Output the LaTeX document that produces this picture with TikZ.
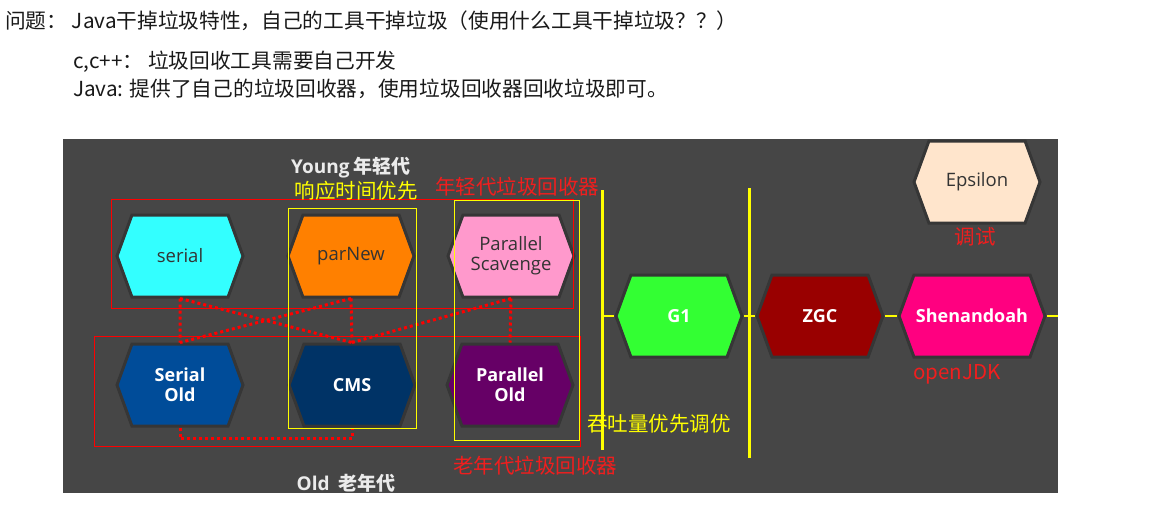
\documentclass[tikz,border=0pt]{standalone}
\usepackage{fontspec}
\setmainfont{Noto Sans CJK SC}
\newfontfamily\hexfont{Open Sans}
\usetikzlibrary{shapes.symbols}
\definecolor{panel}{HTML}{464646}
\definecolor{rim}{HTML}{363636}
\definecolor{gcred}{HTML}{F01E1E}
\definecolor{gcyellow}{HTML}{FFFF00}
\definecolor{darktext}{HTML}{333333}
\definecolor{cyanhex}{HTML}{33FFFF}
\definecolor{orangehex}{HTML}{FF8000}
\definecolor{pinkhex}{HTML}{FF99CC}
\definecolor{bluehex}{HTML}{004C99}
\definecolor{navyhex}{HTML}{003366}
\definecolor{purplehex}{HTML}{660066}
\definecolor{greenhex}{HTML}{33FF33}
\definecolor{maroonhex}{HTML}{990000}
\definecolor{magentahex}{HTML}{FF0080}
\definecolor{creamhex}{HTML}{FFE5CC}
\tikzset{
  gc/.style={signal, signal to=east and west, signal pointer angle=140,
    draw=rim, line width=3pt, minimum width=126pt, minimum height=82pt,
    inner sep=0pt, align=center},
  gclight/.style={gc, text=darktext, font=\hexfont\fontsize{18.5}{22}\selectfont},
  gcdark/.style={gc, text=white, font=\hexfont\bfseries\fontsize{18}{22}\selectfont},
  tag/.style={inner sep=0pt, font=\fontsize{20.5}{24}\selectfont},
  heading/.style={inner sep=0pt, text=white!92!black, font=\bfseries\fontsize{19}{22}\selectfont},
  line/.style={inner sep=0pt, anchor=west, text=black!90, font=\fontsize{20.7}{24}\selectfont},
  link/.style={red, line width=3pt, dash pattern=on 3pt off 3pt},
  frame/.style={line width=1.3pt},
  divider/.style={gcyellow, line width=3pt}
}

\begin{document}
\begin{tikzpicture}[x=1pt, y=-1pt]
  \useasboundingbox (0,0) rectangle (1160,512);
  % notes above the panel
  \node[line] (q) at (5,21) {问题： Java干掉垃圾特性，自己的工具干掉垃圾（使用什么工具干掉垃圾？？）};
  \node[line] (cpp) at (73,62) {c,c++： 垃圾回收工具需要自己开发};
  \node[line] (java) at (73,89) {Java: 提供了自己的垃圾回收器，使用垃圾回收器回收垃圾即可。};

  \fill[panel] (63,139) rectangle (1058,493);

  % collectors
  \node[gclight, fill=cyanhex] (serial) at (180,256) {serial};
  \node[gclight, fill=orangehex] (parnew) at (351,256) {parNew};
  \node[gclight, fill=pinkhex] (pscav) at (511,256) {Parallel\\[-2pt]Scavenge};
  \node[gcdark, fill=bluehex] (sold) at (180,385) {Serial\\[-2pt]Old};
  \node[gcdark, fill=navyhex] (cms) at (352,385) {CMS};
  \node[gcdark, fill=purplehex] (pold) at (510,385) {Parallel\\[-2pt]Old};
  \node[gcdark, fill=greenhex] (gone) at (679,316) {G1};
  \node[gcdark, fill=maroonhex] (zgc) at (820,316) {ZGC};
  \node[gcdark, fill=magentahex, minimum width=146pt] (shen) at (972,316) {Shenandoah};
  \node[gclight, fill=creamhex] (eps) at (977,182) {Epsilon};

  \draw[link] (serial.south) -- (sold.north)
    (serial.south) -- (cms.north)
    (parnew.south) -- (sold.north)
    (parnew.south) -- (cms.north)
    (pscav.south) -- (cms.north)
    (pscav.south) -- (pold.north);
  \draw[link] (sold.south) -- ++(0,11) -| (cms.south);

  \coordinate (split) at (602,316);
  \coordinate (edge) at (1058,316);
  \draw[gcyellow, line width=2.5pt] (split) -- (gone.west)
    (gone.east) -- (zgc.west)
    (zgc.east) -- (shen.west)
    (shen.east) -- (edge);
  \draw[divider] (602,190) -- (602,450);
  \draw[divider] (749,188) -- (749,458);

  \draw[frame, red] (111.5,199.5) rectangle (573.5,308.5);
  \draw[frame, red] (94.5,336.5) rectangle (580.5,446.5);
  \draw[frame, gcyellow] (288.5,208.5) rectangle (416.5,428.5);
  \draw[frame, gcyellow] (454.5,200.5) rectangle (579.5,440.5);

  % labels
  \node[heading] (young) at (351,168) {{\hexfont Young} 年轻代};
  \node[heading] (old) at (346,483) {{\hexfont Old}\ \ 老年代};
  \node[tag, text=gcyellow] (fast) at (356,191) {响应时间优先};
  \node[tag, text=gcred] (ygc) at (517,187) {年轻代垃圾回收器};
  \node[tag, text=gcred] (debug) at (975,237) {调试};
  \node[tag, text=gcred, anchor=west] (jdk) at (913,374) {openJDK};
  \node[tag, text=gcyellow, anchor=west] (tput) at (587,424) {吞吐量优先调优};
  \node[tag, text=gcred, anchor=west] (ogc) at (453,466) {老年代垃圾回收器};
\end{tikzpicture}
\end{document}
